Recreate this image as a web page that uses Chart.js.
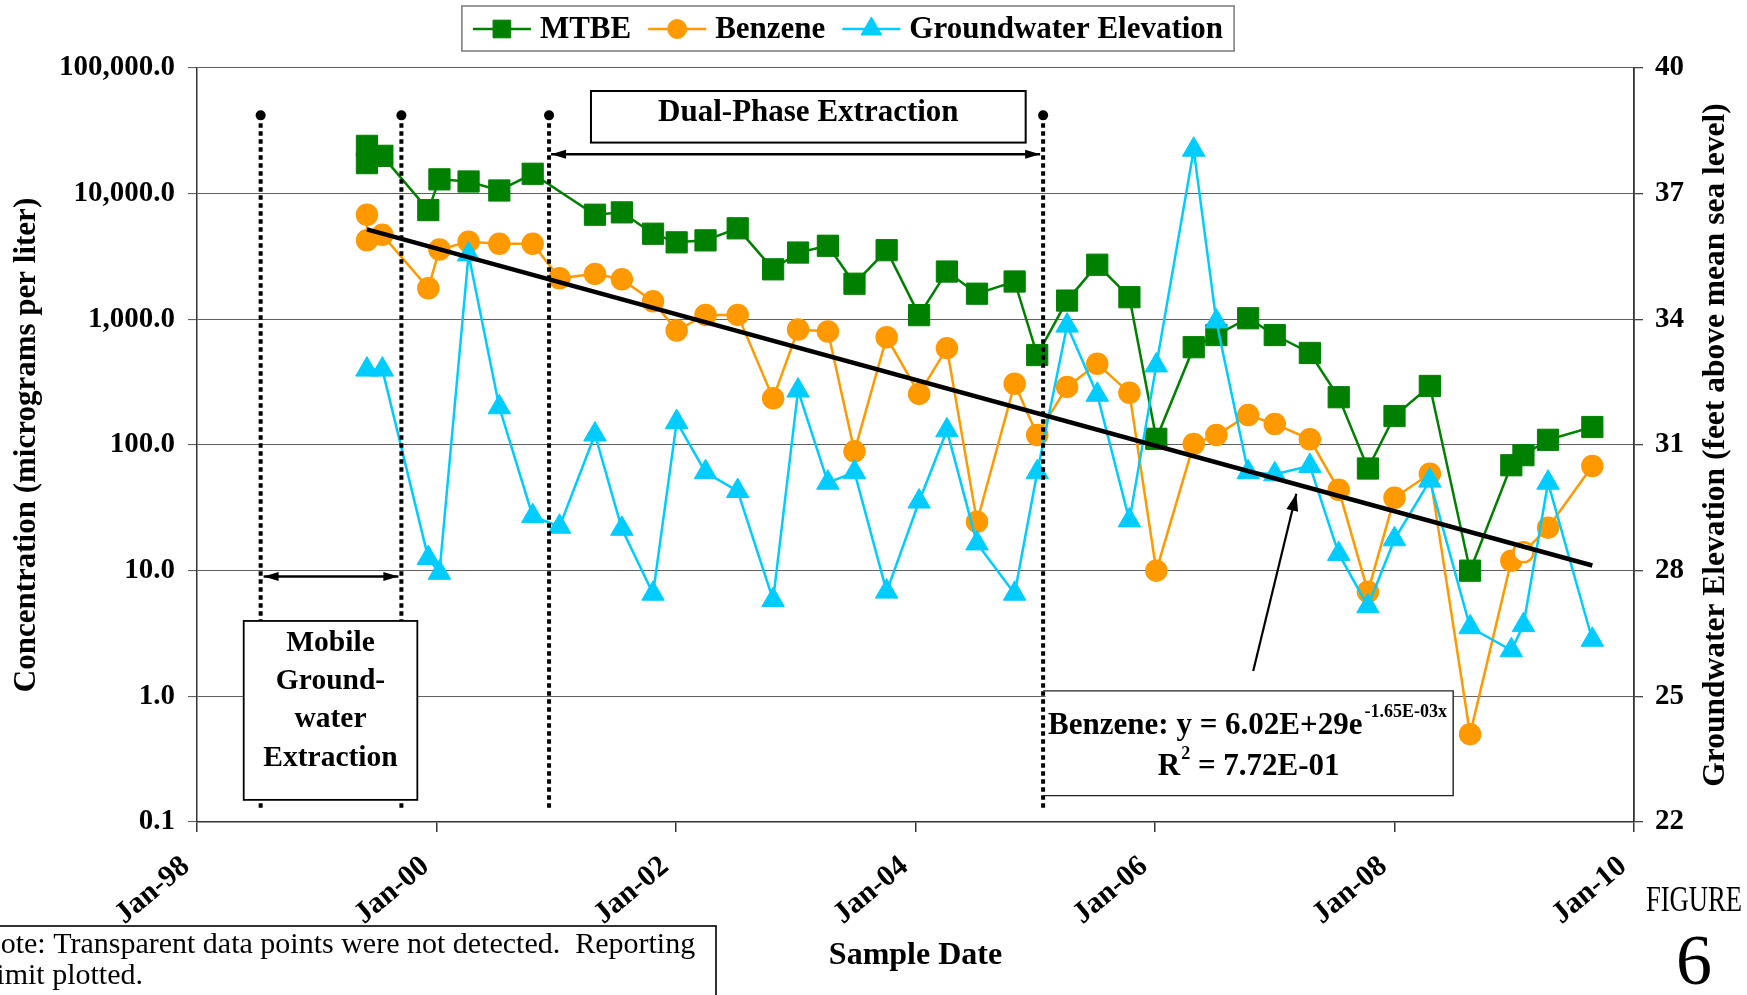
<!DOCTYPE html>
<html>
<head>
<meta charset="utf-8">
<title>Figure 6</title>
<script src="https://cdn.jsdelivr.net/npm/chart.js@4.4.1/dist/chart.umd.min.js"></script>
<style>
  html, body { margin: 0; padding: 0; background: #fff; }
  #wrap { position: relative; width: 1747px; height: 995px; }
</style>
</head>
<body>
<div id="wrap"><canvas id="fig6"></canvas></div>
<script>
// sample dates (the first event has a duplicate sample)
const sampleDates = [
  '1999-06-03', '1999-06-03', '1999-07-20', '1999-12-07',
  '2000-01-10', '2000-04-08', '2000-07-11', '2000-10-21',
  '2001-01-11', '2001-04-29', '2001-07-20', '2001-10-23',
  '2002-01-03', '2002-04-01', '2002-07-08', '2002-10-24',
  '2003-01-08', '2003-04-09', '2003-06-29', '2003-10-05',
  '2004-01-12', '2004-04-06', '2004-07-07', '2004-10-30',
  '2005-01-07', '2005-04-08', '2005-07-09', '2005-10-15',
  '2006-01-05', '2006-04-29', '2006-07-07', '2006-10-12',
  '2007-01-01', '2007-04-18', '2007-07-15', '2007-10-12',
  '2008-01-01', '2008-04-18', '2008-08-19', '2008-12-23',
  '2009-01-29', '2009-04-14', '2009-08-27'
];
// ug/L
const mtbe = [
  24000, 17500, 20000, 7400,
  13000, 12500, 10600, 14400,
  null, 6800, 7100, 4800,
  4100, 4250, 5300, 2500,
  3400, 3850, 1920, 3550,
  1080, 2400, 1600, 2000,
  520, 1410, 2720, 1500,
  112, 600, 750, 1020,
  750, 540, 240, 65,
  170, 295, 10, 69,
  83, 110, 139
];
const benzene = [
  6800, 4250, 4700, 1770,
  3600, 4150, 4000, 4000,
  2120, 2300, 2080, 1390,
  815, 1085, 1085, 235,
  830, 800, 89, 720,
  255, 590, 24.5, 307,
  120, 290, 443, 260,
  10, 102, 120, 173,
  147, 111, 44, 6.8,
  38, 59, 0.5, 12,
  14, 22, 68
];
const benzeneNotDetected = ['2009-01-29'];
// feet above mean sea level
const groundwater = [
  32.8, null, 32.8, 28.3,
  27.95, 35.55, 31.9, 29.3,
  29.05, 31.25, 29.0, 27.45,
  31.55, 30.35, 29.9, 27.3,
  32.3, 30.1, 30.35, 27.5,
  29.65, 31.35, 28.65, 27.45,
  30.35, 33.85, 32.2, 29.2,
  32.9, 38.05, 33.95, 30.35,
  30.3, 30.5, 28.4, 27.15,
  28.75, 30.15, 26.65, 26.1,
  26.7, 30.1, 26.35
];
// exponential fit of benzene (straight on the log axis)
const trendDates = ['1999-06-03', '2009-08-27'];
const trendValues = [5200, 11];
// remediation phase boundaries
const phaseDates = ['1998-07-14', '1999-09-16', '2000-12-10', '2005-01-25'];

const yearTicks = [1998, 2000, 2002, 2004, 2006, 2008, 2010];
const concTicks = [0.1, 1, 10, 100, 1000, 10000, 100000];
const elevTicks = [22, 25, 28, 31, 34, 37, 40];

// placement of the drawn notes, in axis units
const notes = {
  phaseTop: 42000, phaseBottom: 0.122,
  dualBox: { x1: 2001.29, x2: 2004.92, y1: 65600, y2: 25500 },
  dualArrowY: 20600,
  mobileBox: { x1: 1998.39, x2: 1999.84, y1: 3.98, y2: 0.15 },
  mobileArrowY: 9.0,
  eqBox: { x2: 2008.49, y1: 1.105, y2: 0.162 },
  eqArrow: { x1: 2006.82, y1: 1.59, x2: 2007.18, y2: 40.9 }
};

const FONT = '"Liberation Serif", "Times New Roman", serif';
const GREEN = '#008000', ORANGE = '#FF9900', CYAN = '#00CCFF';

function toYear(s) {
  const d = new Date(s + 'T00:00:00Z');
  const y = d.getUTCFullYear();
  const a = Date.UTC(y, 0, 1), b = Date.UTC(y + 1, 0, 1);
  return y + (d.getTime() - a) / (b - a);
}
function pts(dates, vals) {
  return dates.map((d, i) => ({ x: toYear(d), y: vals[i] }));
}

Chart.defaults.font.family = FONT;
Chart.defaults.color = '#000';

const phaseLines = phaseDates.map(d => ({
  label: '_phase',
  data: [{ x: toYear(d), y: notes.phaseTop }, { x: toYear(d), y: notes.phaseBottom }],
  borderColor: '#000', borderWidth: 4, borderDash: [4.5, 3.5], borderCapStyle: 'butt',
  pointRadius: [5, 0], pointBackgroundColor: '#000', pointBorderWidth: 0,
  yAxisID: 'y', order: 0
}));

function drawMarker(ctx, style, cx, cy, r, color) {
  ctx.fillStyle = color;
  ctx.strokeStyle = color;
  ctx.lineWidth = 1;
  Chart.helpers.drawPoint(ctx, { pointStyle: style, radius: r, borderWidth: 1, rotation: 0 }, cx, cy);
}

function arrowHead(ctx, fx, fy, tx, ty, len, half) {
  const a = Math.atan2(ty - fy, tx - fx);
  ctx.beginPath();
  ctx.moveTo(tx, ty);
  ctx.lineTo(tx - len * Math.cos(a) + half * Math.sin(a), ty - len * Math.sin(a) - half * Math.cos(a));
  ctx.lineTo(tx - len * Math.cos(a) - half * Math.sin(a), ty - len * Math.sin(a) + half * Math.cos(a));
  ctx.closePath();
  ctx.fill();
}
function arrow(ctx, x1, y1, x2, y2, both, len, half, width) {
  ctx.strokeStyle = '#000';
  ctx.fillStyle = '#000';
  ctx.lineWidth = width;
  ctx.beginPath();
  ctx.moveTo(x1, y1);
  ctx.lineTo(x2, y2);
  ctx.stroke();
  arrowHead(ctx, x1, y1, x2, y2, len, half);
  if (both) arrowHead(ctx, x2, y2, x1, y1, len, half);
}
function whiteBox(ctx, x1, y1, x2, y2, lw) {
  ctx.fillStyle = '#fff';
  ctx.fillRect(x1, y1, x2 - x1, y2 - y1);
  ctx.strokeStyle = '#000';
  ctx.lineWidth = lw;
  ctx.strokeRect(x1, y1, x2 - x1, y2 - y1);
}

const overlay = {
  id: 'overlay',
  afterDatasetsDraw(chart) {
    const { ctx } = chart;
    const x = chart.scales.x, y = chart.scales.y;
    const px = phaseDates.map(d => x.getPixelForValue(toYear(d)));
    ctx.save();

    // Dual-Phase Extraction
    const db = notes.dualBox;
    const dx1 = x.getPixelForValue(db.x1), dx2 = x.getPixelForValue(db.x2);
    const dy1 = y.getPixelForValue(db.y1), dy2 = y.getPixelForValue(db.y2);
    whiteBox(ctx, dx1, dy1, dx2, dy2, 2);
    ctx.fillStyle = '#000';
    ctx.font = `bold 31px ${FONT}`;
    ctx.textAlign = 'center';
    ctx.textBaseline = 'middle';
    ctx.fillText('Dual-Phase Extraction', (dx1 + dx2) / 2, dy1 + 22);
    const ay = y.getPixelForValue(notes.dualArrowY);
    arrow(ctx, px[2] + 2, ay, px[3] - 3, ay, true, 15, 4.5, 2.5);

    // Mobile Groundwater Extraction
    const my = y.getPixelForValue(notes.mobileArrowY);
    arrow(ctx, px[0] + 3, my, px[1] - 3, my, true, 15, 4.5, 2.5);
    const mb = notes.mobileBox;
    const mx1 = x.getPixelForValue(mb.x1), mx2 = x.getPixelForValue(mb.x2);
    const my1 = y.getPixelForValue(mb.y1), my2 = y.getPixelForValue(mb.y2);
    whiteBox(ctx, mx1, my1, mx2, my2, 1.8);
    ctx.fillStyle = '#000';
    ctx.font = `bold 29.5px ${FONT}`;
    ['Mobile', 'Ground-', 'water', 'Extraction'].forEach((t, i) => {
      ctx.fillText(t, (mx1 + mx2) / 2, my1 + 22 + i * 38.4);
    });

    // trend equation box, left edge is the last phase line
    const eb = notes.eqBox;
    const ex1 = px[3], ex2 = x.getPixelForValue(eb.x2);
    const ey1 = y.getPixelForValue(eb.y1), ey2 = y.getPixelForValue(eb.y2);
    ctx.fillStyle = '#fff';
    ctx.fillRect(ex1 + 2.5, ey1, ex2 - ex1 - 2.5, ey2 - ey1);
    ctx.strokeStyle = '#222';
    ctx.lineWidth = 1.4;
    ctx.beginPath();
    ctx.moveTo(ex1, ey1); ctx.lineTo(ex2, ey1); ctx.lineTo(ex2, ey2); ctx.lineTo(ex1, ey2);
    ctx.stroke();
    ctx.fillStyle = '#000';
    ctx.textAlign = 'left';
    const main = 'Benzene: y = 6.02E+29e';
    ctx.font = `bold 31px ${FONT}`;
    const mw = ctx.measureText(main).width;
    ctx.fillText(main, ex1 + 5, ey1 + 35);
    ctx.font = `bold 18px ${FONT}`;
    ctx.fillText('-1.65E-03x', ex1 + 5 + mw + 2, ey1 + 21);
    ctx.font = `bold 31px ${FONT}`;
    const rW = ctx.measureText('R').width, restW = ctx.measureText(' = 7.72E-01').width;
    ctx.font = `bold 18px ${FONT}`;
    const sW = ctx.measureText('2').width;
    const rx = (ex1 + ex2) / 2 - (rW + sW + restW) / 2;
    ctx.font = `bold 31px ${FONT}`;
    ctx.fillText('R', rx, ey1 + 76);
    ctx.font = `bold 18px ${FONT}`;
    ctx.fillText('2', rx + rW + 1, ey1 + 63);
    ctx.font = `bold 31px ${FONT}`;
    ctx.fillText(' = 7.72E-01', rx + rW + sW + 1, ey1 + 76);

    const ea = notes.eqArrow;
    arrow(ctx, x.getPixelForValue(ea.x1), y.getPixelForValue(ea.y1),
      x.getPixelForValue(ea.x2), y.getPixelForValue(ea.y2), false, 17, 6, 2.2);
    ctx.restore();
  },
  afterDraw(chart) {
    const { ctx, chartArea } = chart;
    ctx.save();

    // legend
    const series = chart.data.datasets.slice(0, 3);
    ctx.font = `bold 31px ${FONT}`;
    const lineLen = 58, textGap = 9, itemGap = 17;
    const widths = series.map(ds => ctx.measureText(ds.label).width);
    const total = widths.reduce((a, w) => a + lineLen + textGap + w, 0) + itemGap * (series.length - 1);
    let lx = 848 - total / 2;
    const ly = 29;
    ctx.strokeStyle = '#808080';
    ctx.lineWidth = 1.6;
    ctx.strokeRect(lx - 11, 6, total + 22, 45);
    const legendR = { rect: 12.5, circle: 9.5, triangle: 12 };
    series.forEach((ds, i) => {
      ctx.strokeStyle = ds.borderColor;
      ctx.lineWidth = 2.5;
      ctx.beginPath();
      ctx.moveTo(lx, ly);
      ctx.lineTo(lx + lineLen, ly);
      ctx.stroke();
      drawMarker(ctx, ds.pointStyle, lx + lineLen / 2, ly, legendR[ds.pointStyle], ds.borderColor);
      ctx.fillStyle = '#000';
      ctx.textAlign = 'left';
      ctx.textBaseline = 'middle';
      ctx.font = `bold 31px ${FONT}`;
      ctx.fillText(ds.label, lx + lineLen + textGap, ly + 1);
      lx += lineLen + textGap + widths[i] + itemGap;
    });

    // right axis title (reads upward)
    ctx.save();
    ctx.translate(chartArea.right + 82, (chartArea.top + chartArea.bottom) / 2);
    ctx.rotate(-Math.PI / 2);
    ctx.font = `bold 31.5px ${FONT}`;
    ctx.textAlign = 'center';
    ctx.textBaseline = 'middle';
    ctx.fillText('Groundwater Elevation (feet above mean sea level)', 0, 0);
    ctx.restore();

    // note box (runs off the page edge)
    ctx.strokeStyle = '#000';
    ctx.lineWidth = 1.6;
    ctx.strokeRect(-2, 926, 718, 80);
    ctx.fillStyle = '#000';
    ctx.font = `30px ${FONT}`;
    ctx.textAlign = 'left';
    ctx.textBaseline = 'middle';
    ctx.fillText('Note: Transparent data points were not detected.  Reporting', -21, 945);
    ctx.fillText('limit plotted.', -12, 976);

    // figure number
    ctx.textAlign = 'center';
    ctx.save();
    ctx.translate(1694, 902);
    ctx.scale(0.74, 1);
    ctx.font = `36px ${FONT}`;
    ctx.fillText('FIGURE', 0, 0);
    ctx.restore();
    ctx.font = `72px ${FONT}`;
    ctx.textBaseline = 'alphabetic';
    ctx.fillText('6', 1694, 984);
    ctx.restore();
  }
};

const notDetected = benzeneNotDetected.map(toYear);
const benzenePoints = pts(sampleDates, benzene);

new Chart(document.getElementById('fig6'), {
  type: 'line',
  data: {
    datasets: [
      {
        label: 'MTBE', data: pts(sampleDates, mtbe), yAxisID: 'y', order: 4,
        borderColor: GREEN, borderWidth: 2.5, spanGaps: true,
        pointStyle: 'rect', pointRadius: 15, pointBackgroundColor: GREEN, pointBorderColor: GREEN, pointBorderWidth: 1
      },
      {
        label: 'Benzene', data: benzenePoints, yAxisID: 'y', order: 3,
        borderColor: ORANGE, borderWidth: 2.5, spanGaps: true,
        pointStyle: 'circle', pointRadius: 10, pointBorderColor: ORANGE, pointBorderWidth: 2.5,
        pointBackgroundColor: benzenePoints.map(p => notDetected.includes(p.x) ? '#fff' : ORANGE)
      },
      {
        label: 'Groundwater Elevation', data: pts(sampleDates, groundwater), yAxisID: 'y2', order: 2,
        borderColor: CYAN, borderWidth: 2.5, spanGaps: true,
        pointStyle: 'triangle', pointRadius: 13, pointBackgroundColor: CYAN, pointBorderColor: CYAN, pointBorderWidth: 1
      },
      {
        label: '_trend', data: pts(trendDates, trendValues), yAxisID: 'y', order: 1,
        borderColor: '#000', borderWidth: 4.5, pointRadius: 0
      },
      ...phaseLines
    ]
  },
  options: {
    responsive: true,
    maintainAspectRatio: false,
    animation: false,
    events: [],
    layout: { padding: { top: 68, left: 0, right: 0, bottom: 0 } },
    plugins: { legend: { display: false }, tooltip: { enabled: false } },
    scales: {
      x: {
        type: 'linear', min: 1998, max: 2010,
        afterBuildTicks: s => { s.ticks = yearTicks.map(v => ({ value: v })); },
        afterFit: s => { s.height = 173; },
        ticks: {
          minRotation: 40, maxRotation: 40, autoSkip: false, padding: 17, labelOffset: -11,
          font: { size: 30, weight: 'bold' },
          callback: v => 'Jan-' + String(v).slice(2)
        },
        grid: { drawOnChartArea: false, tickLength: 10, color: '#333', lineWidth: 1.5 },
        border: { color: '#333', width: 1.5 },
        title: {
          display: true, text: 'Sample Date',
          font: { size: 32, weight: 'bold', lineHeight: 1.2 }, padding: { top: 0, bottom: 20 }
        }
      },
      y: {
        type: 'logarithmic', position: 'left', min: 0.1, max: 100000,
        afterBuildTicks: s => { s.ticks = concTicks.map(v => ({ value: v })); },
        afterFit: s => { s.width = 197; },
        ticks: {
          padding: 13, font: { size: 29, weight: 'bold' },
          callback: v => Number(v).toLocaleString('en-US', { minimumFractionDigits: 1, maximumFractionDigits: 1 })
        },
        grid: { color: '#606060', lineWidth: 1.1, tickLength: 9 },
        border: { color: '#333', width: 1.5 },
        title: {
          display: true, text: 'Concentration (micrograms per liter)',
          font: { size: 31, weight: 'bold', lineHeight: 1.2 }, padding: { top: 8, bottom: 0 }
        }
      },
      y2: {
        type: 'linear', position: 'right', min: 22, max: 40,
        afterBuildTicks: s => { s.ticks = elevTicks.map(v => ({ value: v })); },
        afterFit: s => { s.width = 113; },
        ticks: { padding: 12, font: { size: 29, weight: 'bold' } },
        grid: { drawOnChartArea: false, tickLength: 9, color: '#444', lineWidth: 1.3 },
        border: { color: '#333', width: 1.8 }
      }
    }
  },
  plugins: [overlay]
});
</script>
</body>
</html>
